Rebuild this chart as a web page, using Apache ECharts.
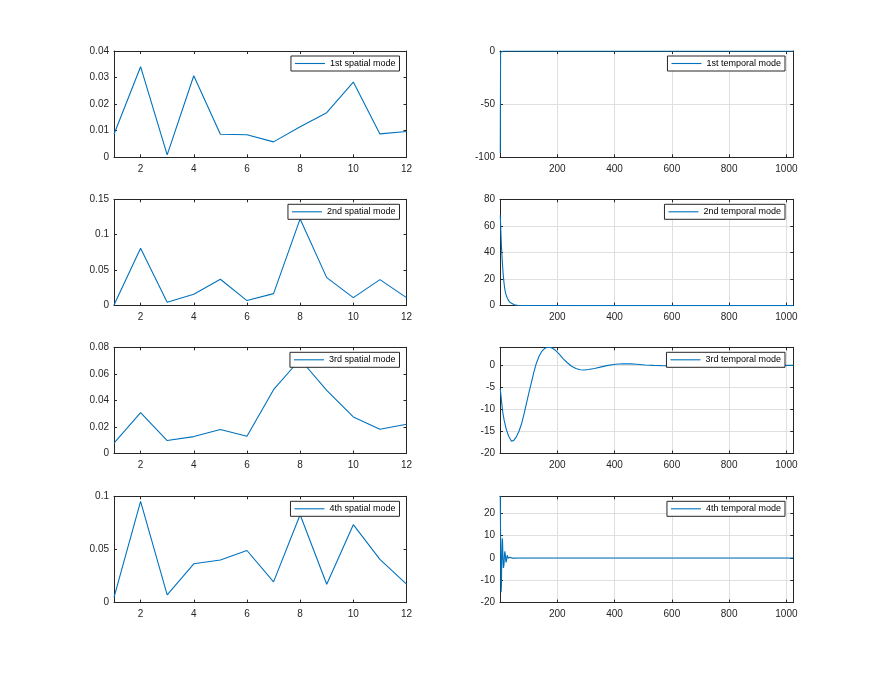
<!DOCTYPE html>
<html>
<head>
<meta charset="utf-8">
<script src="https://cdn.jsdelivr.net/npm/echarts@6/dist/echarts.min.js"></script>
<style>
  html, body { margin: 0; padding: 0; background: #fff; }
  #chart { width: 877px; height: 677px; }
</style>
</head>
<body>
<div id="chart"></div>
<script>
// ---- data ----
const spatialX = [1, 2, 3, 4, 5, 6, 7, 8, 9, 10, 11, 12];
const spatial1 = [0.0087, 0.0341, 0.0009, 0.0307, 0.0087, 0.0085, 0.0058, 0.0115, 0.0168, 0.0283, 0.0088, 0.0097];
const spatial2 = [0.001, 0.0809, 0.0047, 0.016, 0.0372, 0.0071, 0.0169, 0.1223, 0.0395, 0.0113, 0.0367, 0.0113];
const spatial3 = [0.0078, 0.0308, 0.0098, 0.0128, 0.0181, 0.013, 0.0481, 0.071, 0.0476, 0.0276, 0.0183, 0.0221];
const spatial4 = [0.005, 0.0953, 0.0072, 0.0365, 0.040, 0.049, 0.0195, 0.0827, 0.0173, 0.0733, 0.0406, 0.0173];

const temporal1X = [1, 2, 3, 5, 10, 50, 200, 500, 1024];
const temporal1Y = [-96, -1.5, -0.3, -0.1, -0.05, 0, 0, 0, 0];

const temporal2X = [1, 3, 5, 7, 9, 11, 14, 17, 20, 24, 28, 34, 40, 50, 60, 75, 100, 300, 1024];
const temporal2Y = [68, 56, 45, 37, 30, 24, 17, 12, 9, 6.5, 4.5, 2.5, 1.5, 0.6, 0.25, 0.08, 0.02, 0, 0];

const temporal3X = [1, 5, 10, 15, 22, 30, 40, 48, 57, 66, 75, 84, 92, 101, 110, 118, 127, 136, 145, 157,
  168, 180, 192, 206, 221, 235, 250, 265, 280, 295, 309, 330, 350, 373, 396, 414, 432, 455, 478, 507,
  537, 572, 607, 642, 677, 720, 780, 850, 920, 1024];
const temporal3Y = [-5.3, -8, -10.8, -12.6, -14.5, -16, -17.2, -17, -16.2, -15, -13.3, -11, -8.7, -6.2, -3.8, -1.6, 0.5, 2.0, 3.1, 3.9,
  4.1, 4.0, 3.5, 2.6, 1.5, 0.6, -0.2, -0.7, -1.0, -1.05, -0.95, -0.7, -0.4, -0.05, 0.2, 0.32, 0.38, 0.35, 0.25, 0.1,
  0, -0.08, -0.1, -0.08, -0.05, -0.02, 0, 0, 0, 0];

const temporal4X = [1, 2, 3, 4, 5, 6, 7, 8, 9, 10, 11, 12, 13, 14, 15, 16, 17, 18, 19, 20,
  21, 22, 23, 24, 25, 26, 27, 28, 29, 30, 31, 32, 33, 34, 35, 36, 37, 38, 39, 40, 45, 50, 60, 100, 1024];
const temporal4Y = [27.6, 10, -8, -15.3, -12, -2, 5, 8.8, 7, 2, -3, -4.5, -5, -3, 0, 2, 3, 2.5, 1, -1,
  -2, -1.8, -1, 0.3, 1.2, 1.3, 0.8, 0, -0.7, -0.9, -0.6, 0, 0.5, 0.6, 0.3, -0.2, -0.4, -0.3, 0, 0.2, -0.1, 0.1, 0, 0, 0];

const spatialXTicks = [2, 4, 6, 8, 10, 12];

// ---- layout ----
const FONT = '"Liberation Sans", Arial, Helvetica, sans-serif';
const INK = '#262626';
const BLUE = '#0072BD';
const colLeft = [114, 500], colWidth = [292.5, 293.3];
const rowTop = [51, 199.3, 347.3, 496.3], rowH = 106.3;

const panels = [
  { name: '1st spatial mode',  col: 0, row: 0, xs: spatialX, ys: spatial1, yMin: 0, yMax: 0.04, yInt: 0.01 },
  { name: '1st temporal mode', col: 1, row: 0, xs: temporal1X, ys: temporal1Y, yMin: -100, yMax: 0, yInt: 50 },
  { name: '2nd spatial mode',  col: 0, row: 1, xs: spatialX, ys: spatial2, yMin: 0, yMax: 0.15, yInt: 0.05 },
  { name: '2nd temporal mode', col: 1, row: 1, xs: temporal2X, ys: temporal2Y, yMin: 0, yMax: 80, yInt: 20 },
  { name: '3rd spatial mode',  col: 0, row: 2, xs: spatialX, ys: spatial3, yMin: 0, yMax: 0.08, yInt: 0.02 },
  { name: '3rd temporal mode', col: 1, row: 2, xs: temporal3X, ys: temporal3Y, yMin: -20, yMax: 4.1, yInt: 5 },
  { name: '4th spatial mode',  col: 0, row: 3, xs: spatialX, ys: spatial4, yMin: 0, yMax: 0.1, yInt: 0.05 },
  { name: '4th temporal mode', col: 1, row: 3, xs: temporal4X, ys: temporal4Y, yMin: -20, yMax: 27.6, yInt: 10 }
];

const isMult = (v, step) => Math.abs(v / step - Math.round(v / step)) < 1e-6;
const fmt = v => String(+v.toFixed(4));

const grid = [], xAxis = [], yAxis = [], series = [], legend = [];
panels.forEach((p, i) => {
  const temporal = p.col === 1;
  grid.push({ left: colLeft[p.col], top: rowTop[p.row], width: colWidth[p.col], height: rowH, show: false });

  const line = { show: true, onZero: false, lineStyle: { color: INK, width: 1 } };
  const tick = { inside: true, length: 3, lineStyle: { color: INK, width: 1 } };
  const label = { color: INK, fontSize: 10, fontFamily: FONT };
  const split = { show: temporal, lineStyle: { color: '#dfdfdf', width: 1 } };

  const xBase = temporal
    ? { type: 'value', min: 0, max: 1024, interval: 200 }
    : { type: 'value', min: 1, max: 12 };
  const xTick = temporal ? tick : Object.assign({ customValues: spatialXTicks }, tick);
  xAxis.push(Object.assign({}, xBase, {
    gridIndex: i, position: 'bottom', axisLine: line, axisTick: xTick, splitLine: split,
    axisLabel: temporal
      ? Object.assign({ margin: 7, formatter: v => (v > 0 && isMult(v, 200)) ? fmt(v) : '' }, label)
      : Object.assign({ margin: 7, customValues: spatialXTicks }, label)
  }));
  xAxis.push(Object.assign({}, xBase, {
    gridIndex: i, position: 'top', axisLine: line, axisTick: xTick,
    axisLabel: { show: false }, splitLine: { show: false }
  }));

  const yBase = { type: 'value', min: p.yMin, max: p.yMax, interval: p.yInt };
  yAxis.push(Object.assign({}, yBase, {
    gridIndex: i, position: 'left', axisLine: line, axisTick: tick, splitLine: split,
    axisLabel: Object.assign({ margin: 5, formatter: v => isMult(v, p.yInt) ? fmt(v) : '' }, label)
  }));
  yAxis.push(Object.assign({}, yBase, {
    gridIndex: i, position: 'right', axisLine: line, axisTick: tick,
    axisLabel: { show: false }, splitLine: { show: false }
  }));

  series.push({
    type: 'line', name: p.name, xAxisIndex: 2 * i, yAxisIndex: 2 * i,
    data: p.xs.map((x, k) => [x, p.ys[k]]),
    symbol: 'none', showSymbol: false, silent: true,
    lineStyle: { color: BLUE, width: 1.1 }, itemStyle: { color: BLUE }
  });

  legend.push({
    data: [p.name], selectedMode: false,
    right: temporal ? 92 : 477.5, top: rowTop[p.row] + 5,
    backgroundColor: '#fff', borderColor: INK, borderWidth: 1, borderRadius: 0,
    padding: [2, 4, 2, 4], icon: 'rect', itemWidth: 30, itemHeight: 1.1, itemGap: 0,
    itemStyle: { color: BLUE, borderWidth: 0 },
    textStyle: { fontSize: 9, lineHeight: 11, color: '#000', fontFamily: FONT }
  });
});

const chart = echarts.init(document.getElementById('chart'));
chart.setOption({
  backgroundColor: '#fff',
  animation: false,
  grid, xAxis, yAxis, series, legend
});
</script>
</body>
</html>
